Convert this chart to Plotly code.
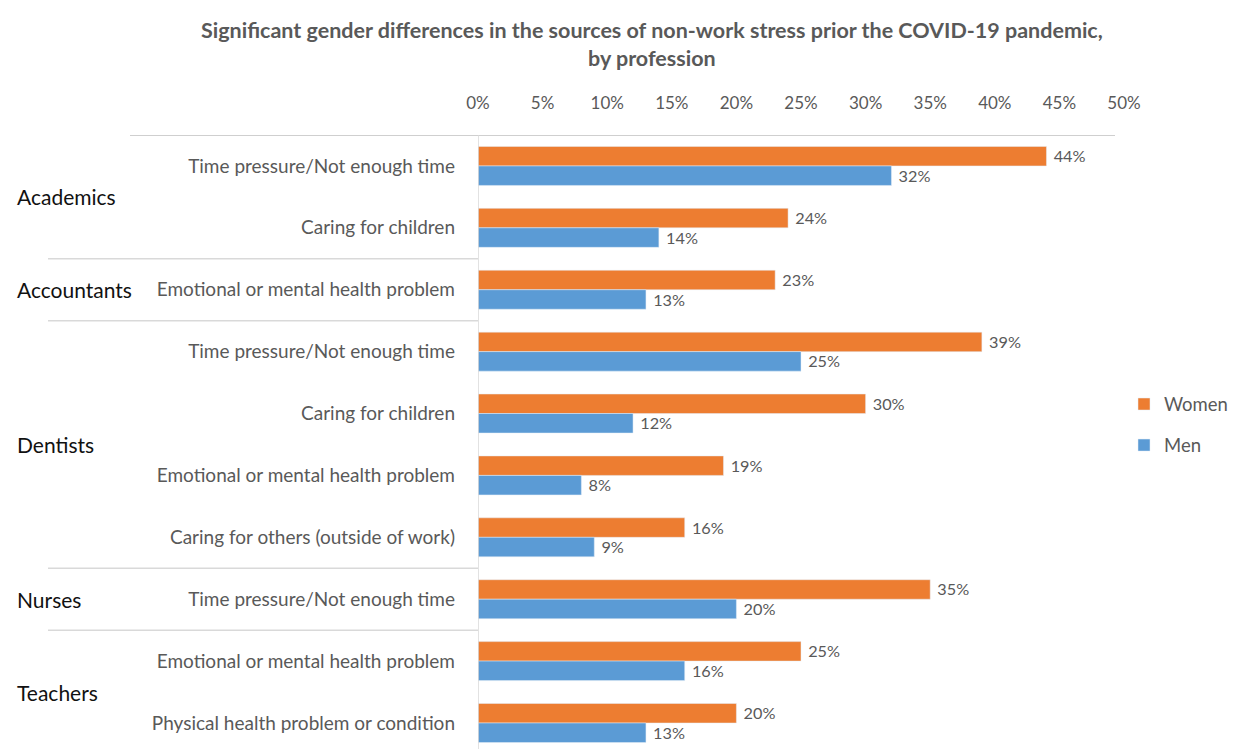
import plotly.graph_objects as go

# Data
groups = ["Academics", "Academics", "Accountants", "Dentists", "Dentists",
          "Dentists", "Dentists", "Nurses", "Teachers", "Teachers"]
sources = [
    "Time pressure/Not enough time",
    "Caring for children",
    "Emotional or mental health problem",
    "Time pressure/Not enough time",
    "Caring for children",
    "Emotional or mental health problem",
    "Caring for others (outside of work)",
    "Time pressure/Not enough time",
    "Emotional or mental health problem",
    "Physical health problem or condition",
]
women = [44, 24, 23, 39, 30, 19, 16, 35, 25, 20]
men = [32, 14, 13, 25, 12, 8, 9, 20, 16, 13]
x_ticks = [0, 5, 10, 15, 20, 25, 30, 35, 40, 45, 50]

W, H = 1253, 749
ML, MR, MT, MB = 478, 129, 135, 0
FONT = "Lato"
GRAY = "#595959"

pos = list(range(len(sources)))

fig = go.Figure()
fig.add_trace(go.Bar(
    y=pos, x=women, name="Women", orientation="h",
    marker_color="#ED7D31", legendgroup="w",
    text=[f" {v}%" for v in women], textposition="outside",
    textfont=dict(size=17.5, color=GRAY, family=FONT), cliponaxis=False,
))
fig.add_trace(go.Bar(
    y=pos, x=men, name="Men", orientation="h",
    marker_color="#5B9BD5", legendgroup="m",
    text=[f" {v}%" for v in men], textposition="outside",
    textfont=dict(size=17.5, color=GRAY, family=FONT), cliponaxis=False,
))

pw = W - ML - MR
ph = H - MT - MB


def px_to_paper(px):
    return (px - ML) / pw


def py_to_paper(py):
    return (H - MB - py) / ph


shapes = []
# top rule
shapes.append(dict(type="line", xref="paper", yref="y",
                   x0=px_to_paper(130), x1=px_to_paper(1115), y0=-0.5, y1=-0.5,
                   line=dict(color="#BFBFBF", width=1.5)))
# group labels and separators
annotations = []
start = 0
for i in range(1, len(groups) + 1):
    if i == len(groups) or groups[i] != groups[i - 1]:
        mid = (start + i - 1) / 2
        annotations.append(dict(
            xref="paper", yref="y", x=px_to_paper(15), y=mid,
            xanchor="left", yanchor="middle", showarrow=False,
            text=groups[start], font=dict(size=21, color="#111111", family=FONT)))
        if i < len(groups):
            shapes.append(dict(type="line", xref="paper", yref="y",
                               x0=px_to_paper(48), x1=0, y0=i - 0.5, y1=i - 0.5,
                               line=dict(color="#D9D9D9", width=1.5)))
        start = i

# left axis rule
shapes.append(dict(type="line", xref="x", yref="paper", x0=0, x1=0, y0=0, y1=1,
                   line=dict(color="#D9D9D9", width=1.5)))

# chart title
annotations.append(dict(
    xref="paper", yref="paper", x=px_to_paper(652), y=py_to_paper(15),
    xanchor="center", yanchor="top", showarrow=False, align="center",
    text="<b>Significant gender differences in the sources of non-work stress prior the COVID-19 pandemic,<br>by profession</b>",
    font=dict(size=21.5, color=GRAY, family=FONT),
))

fig.update_layout(
    width=W, height=H,
    margin=dict(l=ML, r=MR, t=MT, b=MB),
    paper_bgcolor="white", plot_bgcolor="white",
    barmode="group", bargap=0.37, bargroupgap=0,
    font=dict(family=FONT, color=GRAY),
    xaxis=dict(
        range=[0, 50], side="top", tickvals=x_ticks,
        ticktext=[f"{v}%" for v in x_ticks],
        showgrid=False, zeroline=False, showline=False,
        tickfont=dict(size=17, color=GRAY, family=FONT), ticks="",
        ticklabelstandoff=22,
    ),
    yaxis=dict(
        range=[9.42, -0.5], tickvals=pos, ticktext=sources,
        showgrid=False, zeroline=False, showline=False, ticks="",
        tickfont=dict(size=19, color=GRAY, family=FONT),
        ticklabelstandoff=22,
    ),
    legend=dict(
        x=px_to_paper(1124), xanchor="left", y=py_to_paper(425), yanchor="middle",
        font=dict(size=18.5, color=GRAY, family=FONT),
        itemwidth=30, tracegroupgap=14, traceorder="grouped",
    ),
    shapes=shapes, annotations=annotations,
)

fig.write_html("out.html")
